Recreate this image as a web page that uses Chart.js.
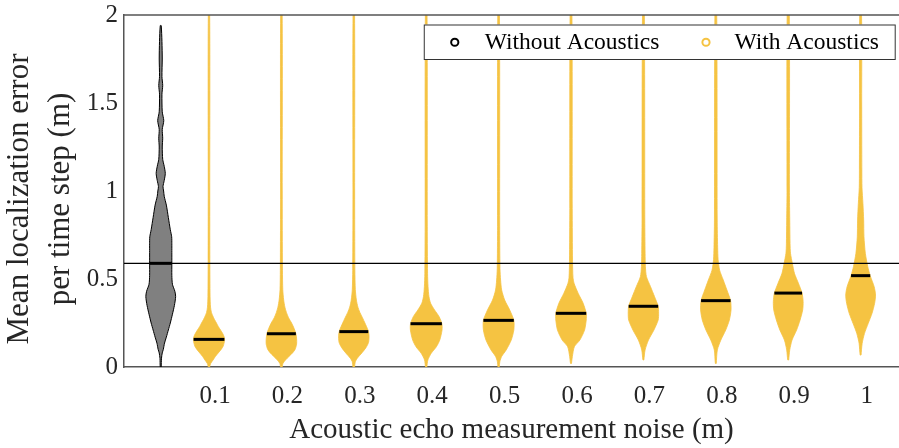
<!DOCTYPE html>
<html>
<head>
<meta charset="utf-8">
<script src="https://cdn.jsdelivr.net/npm/chart.js@4.4.0/dist/chart.umd.min.js"></script>
<style>
  html, body { margin: 0; padding: 0; background: #ffffff; }
  #wrap { width: 899px; height: 448px; }
</style>
</head>
<body>
<div id="wrap"><canvas id="chart"></canvas></div>
<script>
// ---- data -------------------------------------------------------------
const seriesNames = ['Without Acoustics', 'With Acoustics'];
const noiseLabels = ['0.1', '0.2', '0.3', '0.4', '0.5', '0.6', '0.7', '0.8', '0.9', '1'];
const noisePositions = [1, 2, 3, 4, 5, 6, 7, 8, 9, 10];
const baselinePosition = 1 / 3;
const yTicks = [0, 0.5, 1, 1.5, 2];
const yTickLabels = ['0', '0.5', '1', '1.5', '2'];

// median localization error per condition (m)
const baselineMedian = 0.589;
const acousticMedians = [0.157, 0.189, 0.201, 0.246, 0.265, 0.305, 0.345, 0.377, 0.420, 0.519];

// kernel density profiles: [error (m), relative density]
const profileBaseline = [
  [0.00, 0.03], [0.05, 0.05], [0.08, 0.10], [0.10, 0.17], [0.136, 0.25], [0.17, 0.37],
  [0.21, 0.50], [0.25, 0.63], [0.30, 0.77], [0.35, 0.90], [0.40, 0.98], [0.43, 0.93],
  [0.47, 0.77], [0.52, 0.73], [0.59, 0.73], [0.65, 0.73], [0.70, 0.73], [0.74, 0.72],
  [0.78, 0.63], [0.85, 0.50], [0.92, 0.37], [0.97, 0.23], [1.00, 0.19], [1.025, 0.15],
  [1.06, 0.23], [1.10, 0.30], [1.14, 0.23], [1.18, 0.13], [1.25, 0.10], [1.30, 0.13],
  [1.35, 0.10], [1.40, 0.20], [1.45, 0.10], [1.55, 0.08], [1.60, 0.13], [1.65, 0.08],
  [1.75, 0.10], [1.85, 0.08], [1.94, 0.03]
];
const profile01 = [
  [0.00, 0.04], [0.02, 0.11], [0.04, 0.27], [0.06, 0.42], [0.08, 0.61], [0.10, 0.80],
  [0.12, 0.94], [0.15, 1.02], [0.17, 1.00], [0.19, 0.90], [0.21, 0.76], [0.23, 0.61],
  [0.25, 0.49], [0.27, 0.36], [0.29, 0.25], [0.31, 0.16], [0.34, 0.10], [0.40, 0.07],
  [0.60, 0.055], [1.00, 0.05], [2.00, 0.045]
];
const profile02 = [
  [0.00, 0.05], [0.02, 0.10], [0.04, 0.27], [0.06, 0.50], [0.08, 0.73], [0.10, 0.90],
  [0.13, 1.00], [0.16, 1.00], [0.19, 0.95], [0.22, 0.83], [0.25, 0.67], [0.28, 0.47],
  [0.31, 0.33], [0.34, 0.23], [0.38, 0.15], [0.44, 0.09], [0.55, 0.07], [1.00, 0.055],
  [2.00, 0.05]
];
const profile03 = [
  [0.00, 0.05], [0.03, 0.10], [0.05, 0.23], [0.08, 0.53], [0.11, 0.80], [0.14, 0.97],
  [0.18, 1.00], [0.21, 0.93], [0.25, 0.73], [0.28, 0.57], [0.31, 0.40], [0.34, 0.27],
  [0.38, 0.17], [0.44, 0.10], [0.55, 0.07], [1.00, 0.055], [2.00, 0.05]
];
const profile04 = [
  [0.00, 0.04], [0.04, 0.11], [0.078, 0.33], [0.115, 0.67], [0.153, 0.89], [0.21, 1.04],
  [0.246, 1.03], [0.286, 0.85], [0.324, 0.55], [0.362, 0.29], [0.40, 0.18], [0.456, 0.12],
  [0.53, 0.09], [0.80, 0.07], [2.00, 0.055]
];
const profile05 = [
  [0.00, 0.04], [0.03, 0.08], [0.06, 0.20], [0.097, 0.50], [0.153, 0.83], [0.21, 1.00],
  [0.265, 1.00], [0.324, 0.73], [0.38, 0.40], [0.4375, 0.20], [0.494, 0.13], [0.56, 0.09],
  [0.80, 0.07], [2.00, 0.055]
];
const profile06 = [
  [0.02, 0.03], [0.06, 0.09], [0.115, 0.22], [0.153, 0.58], [0.21, 0.89], [0.267, 1.00],
  [0.305, 1.00], [0.362, 0.80], [0.419, 0.47], [0.476, 0.20], [0.51, 0.13], [0.60, 0.10],
  [0.90, 0.08], [2.00, 0.06]
];
const profile07 = [
  [0.04, 0.03], [0.097, 0.11], [0.153, 0.33], [0.21, 0.69], [0.267, 0.97], [0.305, 1.00],
  [0.345, 0.97], [0.40, 0.73], [0.456, 0.47], [0.513, 0.20], [0.57, 0.13], [0.646, 0.11],
  [0.835, 0.09], [2.00, 0.06]
];
const profile08 = [
  [0.02, 0.03], [0.097, 0.10], [0.153, 0.33], [0.21, 0.65], [0.267, 0.89], [0.324, 1.00],
  [0.377, 0.97], [0.4375, 0.73], [0.494, 0.49], [0.55, 0.25], [0.61, 0.15], [0.68, 0.12],
  [0.835, 0.09], [2.00, 0.06]
];
const profile09 = [
  [0.04, 0.03], [0.097, 0.10], [0.153, 0.25], [0.21, 0.55], [0.267, 0.78], [0.324, 0.95],
  [0.371, 0.98], [0.42, 0.91], [0.476, 0.67], [0.532, 0.41], [0.589, 0.27], [0.646, 0.15],
  [0.70, 0.12], [0.835, 0.10], [0.99, 0.08], [2.00, 0.07]
];
const profile10 = [
  [0.068, 0.03], [0.134, 0.10], [0.19, 0.25], [0.248, 0.50], [0.305, 0.75], [0.362, 0.92],
  [0.409, 0.98], [0.456, 0.89], [0.519, 0.63], [0.57, 0.47], [0.646, 0.31], [0.74, 0.22],
  [0.835, 0.20], [0.93, 0.15], [1.02, 0.09], [1.12, 0.08], [1.50, 0.07], [2.00, 0.06]
];
const acousticProfiles = [profile01, profile02, profile03, profile04, profile05,
                          profile06, profile07, profile08, profile09, profile10];

// ---- styling ----------------------------------------------------------
const FONT = '"Liberation Serif", "Times New Roman", serif';
const TEXT = '#262626';
const AXIS = '#555555';
const GOLD = '#F5C342';
const GREY = '#808080';
const violinHalfWidth = 0.21;       // x-units at relative density 1
const xRange = { min: -0.174, max: 10.53 };
const yTitleLines = ['Mean localization error', 'per time step (m)'];
const xTitle = 'Acoustic echo measurement noise (m)';

// ---- geometry helpers (data -> outline in data space) -------------------
function violinOutline(pos, profile) {
  const right = profile.map(([v, d]) => ({ x: pos + d * violinHalfWidth, y: v }));
  const left = profile.slice().reverse().map(([v, d]) => ({ x: pos - d * violinHalfWidth, y: v }));
  return right.concat(left, [right[0]]);
}
function densityAt(profile, v) {
  for (let i = 1; i < profile.length; i++) {
    const [v0, d0] = profile[i - 1], [v1, d1] = profile[i];
    if (v >= v0 && v <= v1) return d0 + (d1 - d0) * (v - v0) / (v1 - v0);
  }
  return 0;
}
function medianBar(pos, profile, med) {
  const h = densityAt(profile, med) * violinHalfWidth;
  return [{ x: pos - h, y: med }, { x: pos + h, y: med }];
}

// ---- datasets -----------------------------------------------------------
const datasets = [];
datasets.push({
  label: seriesNames[0], data: violinOutline(baselinePosition, profileBaseline),
  showLine: true, fill: 'shape', backgroundColor: GREY, borderColor: '#000000',
  borderWidth: 1, tension: 0.25, order: 3
});
acousticProfiles.forEach((p, i) => {
  datasets.push({
    label: seriesNames[1], data: violinOutline(noisePositions[i], p),
    showLine: true, fill: 'shape', backgroundColor: GOLD, borderColor: GOLD,
    borderWidth: 0.8, tension: 0.25, order: 3
  });
});
datasets.push({
  label: 'median line', data: [{ x: xRange.min, y: baselineMedian }, { x: xRange.max, y: baselineMedian }],
  showLine: true, fill: false, borderColor: '#000000', borderWidth: 1.1, order: 2
});
datasets.push({
  label: 'median', data: medianBar(baselinePosition, profileBaseline, baselineMedian),
  showLine: true, fill: false, borderColor: '#000000', borderWidth: 3, order: 1
});
acousticMedians.forEach((m, i) => {
  datasets.push({
    label: 'median', data: medianBar(noisePositions[i], acousticProfiles[i], m),
    showLine: true, fill: false, borderColor: '#000000', borderWidth: 3, order: 1
  });
});

// ---- plugins: frame, rotated y title, legend box ------------------------
const framePlugin = {
  id: 'frame',
  afterDatasetsDraw(chart) {
    const { ctx, chartArea } = chart;
    ctx.save();
    ctx.strokeStyle = AXIS;
    ctx.lineWidth = 1.5;
    ctx.beginPath();
    ctx.moveTo(chartArea.left, chartArea.top);
    ctx.lineTo(chartArea.right, chartArea.top);
    ctx.stroke();
    ctx.restore();
  }
};

const yTitlePlugin = {
  id: 'yTitle',
  afterDraw(chart) {
    const { ctx, chartArea } = chart;
    ctx.save();
    ctx.translate(20, (chartArea.top + chartArea.bottom) / 2 + 8);
    ctx.rotate(-Math.PI / 2);
    ctx.font = '31px ' + FONT;
    ctx.fillStyle = TEXT;
    ctx.textAlign = 'center';
    ctx.textBaseline = 'middle';
    yTitleLines.forEach((t, i) => ctx.fillText(t, 0, i * 41));
    ctx.restore();
  }
};

const legendPlugin = {
  id: 'legendBox',
  afterDraw(chart) {
    const { ctx, chartArea } = chart;
    ctx.save();
    ctx.font = '23.5px ' + FONT;
    const w0 = ctx.measureText(seriesNames[0]).width;
    const w1 = ctx.measureText(seriesNames[1]).width;
    const width = 61 + w0 + 46.6 + 28.4 + w1 + 16.7;
    const right = chartArea.right - 3.3;
    const left = right - width;
    const top = chartArea.top + 9.5;
    const h = 35.5;
    const cy = top + h / 2;
    ctx.fillStyle = '#ffffff';
    ctx.fillRect(left, top, width, h);
    ctx.strokeStyle = '#333333';
    ctx.lineWidth = 1;
    ctx.strokeRect(left + 0.5, top + 0.5, width - 1, h - 1);

    const m0 = left + 31, t0 = left + 61;
    const m1 = t0 + w0 + 46.6, t1 = m1 + 28.4;
    ctx.lineWidth = 2;
    ctx.strokeStyle = '#000000';
    ctx.beginPath(); ctx.arc(m0, cy, 3.6, 0, Math.PI * 2); ctx.stroke();
    ctx.strokeStyle = GOLD;
    ctx.beginPath(); ctx.arc(m1, cy, 3.6, 0, Math.PI * 2); ctx.stroke();

    ctx.fillStyle = '#000000';
    ctx.textAlign = 'left';
    ctx.textBaseline = 'middle';
    ctx.fillText(seriesNames[0], t0, cy + 1);
    ctx.fillText(seriesNames[1], t1, cy + 1);
    ctx.restore();
  }
};

// ---- chart ------------------------------------------------------------
new Chart(document.getElementById('chart'), {
  type: 'scatter',
  data: { datasets },
  plugins: [framePlugin, yTitlePlugin, legendPlugin],
  options: {
    responsive: true,
    maintainAspectRatio: false,
    devicePixelRatio: 1,
    animation: false,
    events: [],
    layout: { padding: { top: 15, right: 0, bottom: 0, left: 0 } },
    elements: { point: { radius: 0, hoverRadius: 0, hitRadius: 0 } },
    plugins: { legend: { display: false }, tooltip: { enabled: false } },
    scales: {
      x: {
        type: 'linear',
        min: xRange.min,
        max: xRange.max,
        afterBuildTicks: (s) => { s.ticks = noisePositions.map(v => ({ value: v })); },
        afterFit: (s) => { s.height = 81; },
        grid: { display: false, drawTicks: false },
        border: { display: true, color: AXIS, width: 1.5 },
        ticks: {
          autoSkip: false, maxRotation: 0, padding: 14, labelOffset: 6,
          color: TEXT, font: { family: FONT, size: 25 },
          callback: (v) => noiseLabels[noisePositions.indexOf(v)]
        },
        title: {
          display: true, text: xTitle, color: TEXT,
          font: { family: FONT, size: 29 }, padding: { top: 0, bottom: 0 }
        }
      },
      y: {
        type: 'linear',
        min: 0,
        max: 2,
        afterBuildTicks: (s) => { s.ticks = yTicks.map(v => ({ value: v })); },
        afterFit: (s) => { s.width = 124; },
        grid: { display: false, drawTicks: false },
        border: { display: true, color: AXIS, width: 1.5 },
        ticks: {
          padding: 6, color: TEXT, font: { family: FONT, size: 25, lineHeight: 0.6 },
          callback: (v) => yTickLabels[yTicks.indexOf(v)]
        }
      }
    }
  }
});
</script>
</body>
</html>
